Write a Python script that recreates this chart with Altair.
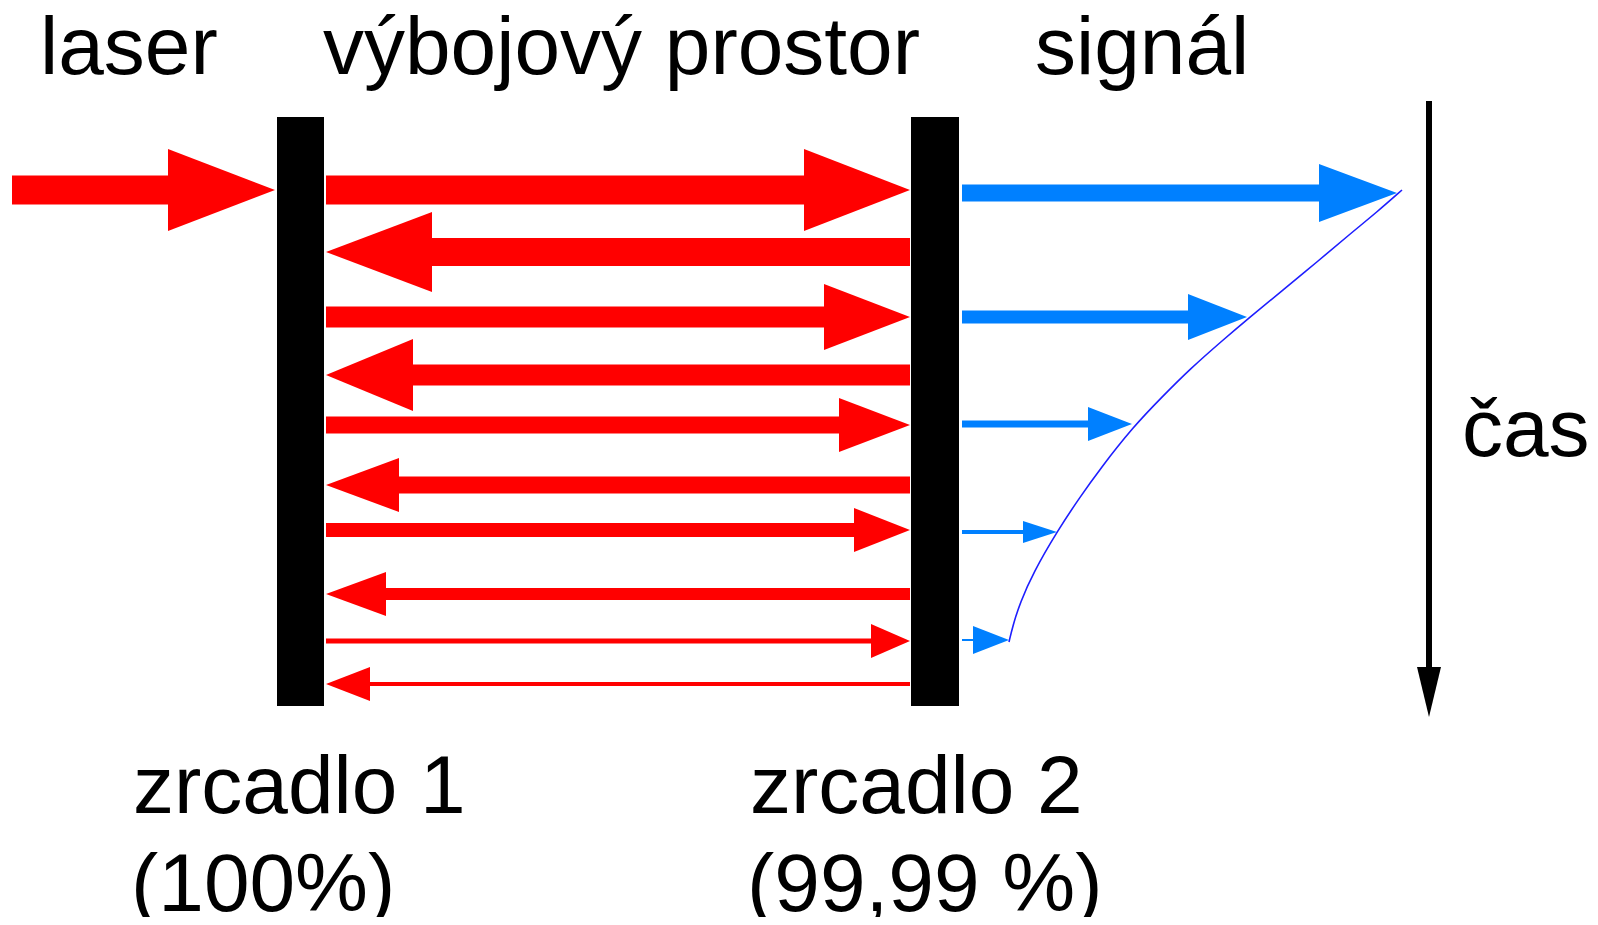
import altair as alt
import pandas as pd

# ---------------- data (reference pixel units) ----------------
labels = ["laser", "výbojový prostor", "signál", "čas",
          "zrcadlo 1", "(100%)", "zrcadlo 2", "(99,99 %)"]
label_x = [40, 323, 1035, 1462, 133, 131, 750, 747]
label_y = [74, 74, 74, 456, 813, 911, 813, 911]

mirror_left = [277, 911]
mirror_right = [324, 959]
mirror_top = [117, 117]
mirror_bottom = [706, 706]

# red beams inside the cavity, top to bottom
red_y = [190, 252, 317, 375, 425, 485, 530, 594, 641, 684]
red_dir = ["right", "left", "right", "left", "right",
           "left", "right", "left", "right", "left"]
red_width = [29, 28, 21, 21, 17, 17, 14, 12, 5, 4]
red_head_len = [106, 106, 86, 87, 71, 73, 56, 60, 39, 44]
red_head_half = [41, 40, 33, 36, 27, 27, 22, 22, 17, 17]
cavity_start = 326
cavity_end = 910

# incoming laser beam
laser_x0 = 12
laser_tip = 275
laser_y = 190
laser_width = 29
laser_head_len = 107
laser_head_half = 41

# outgoing signal beams
blue_start = 962
blue_y = [193, 317, 424, 532, 640]
blue_width = [17, 13, 7, 4, 2]
blue_tip = [1397, 1247, 1132, 1057, 1009]
blue_head_len = [78, 59, 44, 34, 36]
blue_head_half = [29, 23, 17, 11, 14]

# envelope curve through the signal arrow tips
curve_x = [1009, 1013, 1020, 1033, 1058, 1080, 1100, 1133,
           1163, 1190, 1223, 1250, 1283, 1317, 1350, 1377, 1402]
curve_y = [642, 625, 603, 573, 530, 497, 469, 427,
           396, 369, 340, 317, 290, 262, 234, 212, 190]

# time axis arrow
time_x = 1429
time_top = 101
time_tip = 717
time_head_len = 50
time_head_half = 12
time_width = 6

# ---------------- build tables ----------------
shafts = []
heads = []


def add_h_arrow(aid, kind, x_from, tip, yc, w, hlen, hhalf, direction):
    if direction == "right":
        base = tip - hlen
        shafts.append(dict(kind=kind, x=x_from, x2=base + 1, y=yc - w / 2, y2=yc + w / 2))
    else:
        base = tip + hlen
        shafts.append(dict(kind=kind, x=base - 1, x2=x_from, y=yc - w / 2, y2=yc + w / 2))
    heads.append(dict(id=aid, kind=kind, x=base, y=yc - hhalf, y2=yc + hhalf))
    heads.append(dict(id=aid, kind=kind, x=tip, y=yc, y2=yc))


add_h_arrow("in", "laser", laser_x0, laser_tip, laser_y, laser_width,
            laser_head_len, laser_head_half, "right")
for i in range(len(red_y)):
    if red_dir[i] == "right":
        add_h_arrow(f"r{i}", "laser", cavity_start, cavity_end, red_y[i], red_width[i],
                    red_head_len[i], red_head_half[i], "right")
    else:
        add_h_arrow(f"r{i}", "laser", cavity_end, cavity_start, red_y[i], red_width[i],
                    red_head_len[i], red_head_half[i], "left")
for i in range(len(blue_y)):
    add_h_arrow(f"b{i}", "signal", blue_start, blue_tip[i], blue_y[i], blue_width[i],
                blue_head_len[i], blue_head_half[i], "right")

# time shaft (vertical)
shafts.append(dict(kind="mirror", x=time_x - time_width / 2, x2=time_x + time_width / 2,
                   y=time_top, y2=time_tip - time_head_len + 1))
shafts_df = pd.DataFrame(shafts)
heads_df = pd.DataFrame(heads)

time_head_df = pd.DataFrame({
    "kind": ["mirror", "mirror"],
    "y": [time_tip - time_head_len, time_tip],
    "x": [time_x - time_head_half, time_x],
    "x2": [time_x + time_head_half, time_x],
})

mirrors_df = pd.DataFrame({
    "kind": ["mirror", "mirror"],
    "x": mirror_left, "x2": mirror_right,
    "y": mirror_top, "y2": mirror_bottom,
})

curve_df = pd.DataFrame({"x": curve_x, "y": curve_y})
text_df = pd.DataFrame({"label": labels, "x": label_x, "y": label_y})

# ---------------- scales ----------------
xs = alt.Scale(domain=[8, 1590], nice=False, zero=False)
ys = alt.Scale(domain=[8, 917], nice=False, zero=False, reverse=True)
col = alt.Color("kind:N", scale=alt.Scale(domain=["laser", "signal", "mirror"],
                                          range=["#ff0000", "#0080ff", "#000000"]),
                legend=None)

X = alt.X("x:Q", scale=xs, axis=None)
Y = alt.Y("y:Q", scale=ys, axis=None)

mirrors = alt.Chart(mirrors_df).mark_rect().encode(x=X, x2="x2:Q", y=Y, y2="y2:Q", color=col)
shaft_layer = alt.Chart(shafts_df).mark_rect().encode(x=X, x2="x2:Q", y=Y, y2="y2:Q", color=col)
head_layer = alt.Chart(heads_df).mark_area(orient="vertical", opacity=1).encode(
    x=X, y=Y, y2="y2:Q", detail="id:N", color=col)
time_head = alt.Chart(time_head_df).mark_area(orient="horizontal", opacity=1).encode(
    y=Y, x=X, x2="x2:Q", color=col)
curve = alt.Chart(curve_df).mark_line(color="#1e1eff", strokeWidth=1.6,
                                      interpolate="basis").encode(x=X, y=Y)
texts = alt.Chart(text_df).mark_text(align="left", baseline="alphabetic",
                                     font="Liberation Sans", fontSize=82,
                                     color="#000000").encode(x=X, y=Y, text="label:N")

chart = alt.layer(mirrors, shaft_layer, head_layer, time_head, curve, texts).properties(
    width=1582, height=909, padding=0,
    autosize=alt.AutoSizeParams(type="none"),
).configure_view(stroke=None)

chart.save("out.html", embed_options={"renderer": "svg", "actions": False})
